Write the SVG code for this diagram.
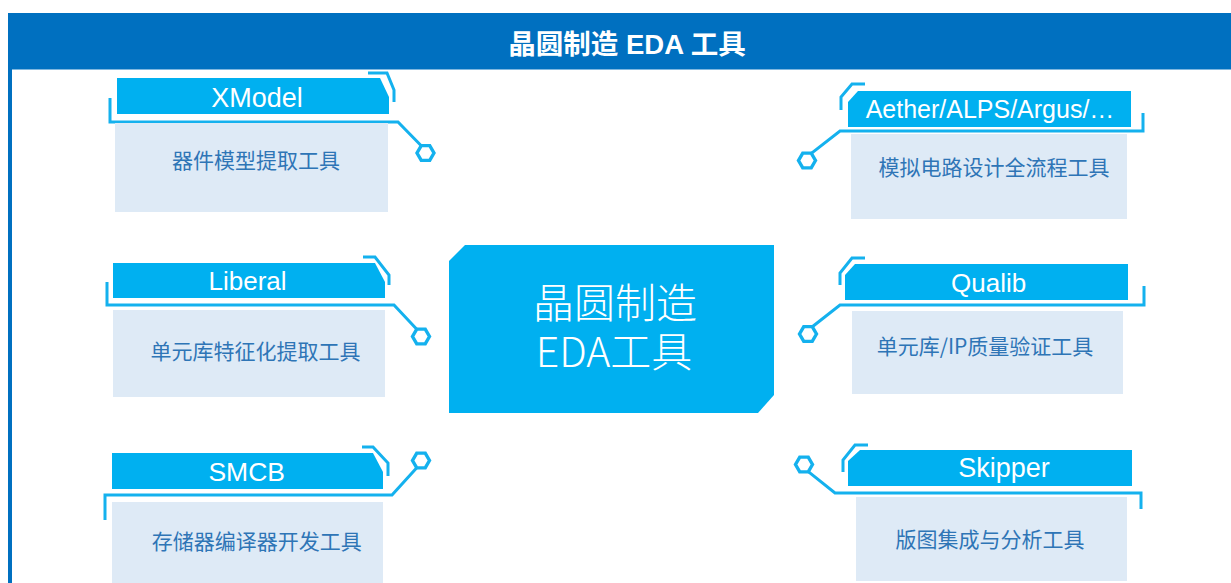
<svg xmlns="http://www.w3.org/2000/svg" xmlns:xlink="http://www.w3.org/1999/xlink" width="1231" height="583" viewBox="0 0 1231 583">
<style>
.bar{fill:#00B0F0}
.body{fill:#DEEAF6}
.ln{fill:none;stroke:#14B1EE;stroke-width:3;stroke-linejoin:miter}
.hex{fill:#fff;stroke:#14B1EE;stroke-width:3.4}
.tt{font-family:"Liberation Sans",Arial,sans-serif;fill:#fff;text-anchor:middle}
.bt{font-family:"Noto Sans CJK SC","Liberation Sans",sans-serif;font-size:21px;fill:#2E75B6;text-anchor:middle}
.hd{font-family:"Liberation Sans","Noto Sans CJK SC",sans-serif;font-weight:bold;font-size:27.5px;fill:#fff;text-anchor:middle}
.ct{font-family:"Noto Sans CJK SC","Liberation Sans",sans-serif;font-weight:300;font-size:41px;fill:#fff;text-anchor:middle}
</style>
<defs>
<path id="hx" d="M8.5,0 L4.25,7.36 L-4.25,7.36 L-8.5,0 L-4.25,-7.36 L4.25,-7.36 Z"/>
</defs>
<rect x="0" y="0" width="1231" height="583" fill="#fff"/>
<g id="header">
<rect x="8" y="13" width="1223" height="56.5" fill="#0070C0"/>
<rect x="8" y="13" width="4" height="570" fill="#0070C0"/>
<text class="hd" x="627" y="54">晶圆制造 EDA 工具</text>
</g>
<g id="connectors">
<path class="ln" d="M368,73 H387 L394,90 V102"/>
<path class="ln" d="M110,98 V122 H398 L421.5,146"/>
<path class="ln" d="M363,257 H375 L389,275 V285"/>
<path class="ln" d="M107,282 V305 H394 L417,329.6"/>
<path class="ln" d="M362,447 H373 L388,463 V476"/>
<path class="ln" d="M105,520 V495 H392 L417,467.4"/>
<path class="ln" d="M865,84 H852 L841,97 V110"/>
<path class="ln" d="M811,153.6 L840,131 H1143 V113"/>
<path class="ln" d="M865,258 H852 L840,273 V285"/>
<path class="ln" d="M812,327 L840,305 H1144 V286"/>
<path class="ln" d="M868,445 H855 L843,460 V472"/>
<path class="ln" d="M808,471.4 L835,493 H1141 V509"/>
<use class="hex" xlink:href="#hx" href="#hx" x="425.5" y="153"/>
<use class="hex" xlink:href="#hx" href="#hx" x="421" y="336.5"/>
<use class="hex" xlink:href="#hx" href="#hx" x="421" y="460.5"/>
<use class="hex" xlink:href="#hx" href="#hx" x="807" y="160.5"/>
<use class="hex" xlink:href="#hx" href="#hx" x="808" y="334"/>
<use class="hex" xlink:href="#hx" href="#hx" x="804" y="464.5"/>
</g>
<g id="center">
<path class="bar" d="M465,245 H774 V395 L758,413 H449 V261 Z"/>
<text class="ct"><tspan x="615" y="318">晶圆制造</tspan><tspan x="614" y="367">EDA工具</tspan></text>
</g>
<g id="xmodel">
<path class="bar" d="M117,78 H380 L389,97 V114 H117 Z"/>
<text class="tt" x="257" y="107" font-size="27">XModel</text>
<rect class="body" x="115" y="123" width="273" height="89"/>
<text class="bt" x="256" y="168">器件模型提取工具</text>
</g>
<g id="liberal">
<path class="bar" d="M113,263 H375 L385,282 V298 H113 Z"/>
<text class="tt" x="247.5" y="290" font-size="26">Liberal</text>
<rect class="body" x="113" y="310" width="272" height="87"/>
<text class="bt" x="255.5" y="359">单元库特征化提取工具</text>
</g>
<g id="smcb">
<path class="bar" d="M112,453 H373 L383,472 V489 H112 Z"/>
<text class="tt" x="246.7" y="481" font-size="26.5">SMCB</text>
<rect class="body" x="112" y="502" width="271" height="90"/>
<text class="bt" x="256.7" y="549">存储器编译器开发工具</text>
</g>
<g id="aether">
<path class="bar" d="M858,91 H1131 V127 H848 V102 Z"/>
<text class="tt" x="990" y="118" font-size="25">Aether/ALPS/Argus/…</text>
<rect class="body" x="851" y="134" width="276" height="85"/>
<text class="bt" x="994" y="175">模拟电路设计全流程工具</text>
</g>
<g id="qualib">
<path class="bar" d="M855,264 H1128 V300 H845 V275 Z"/>
<text class="tt" x="988.7" y="292" font-size="26">Qualib</text>
<rect class="body" x="852" y="311" width="271" height="83"/>
<text class="bt" x="985" y="354">单元库/IP质量验证工具</text>
</g>
<g id="skipper">
<path class="bar" d="M860,450 H1132 V486 H848 V461 Z"/>
<text class="tt" x="1004" y="477" font-size="27">Skipper</text>
<rect class="body" x="856" y="497" width="271" height="84"/>
<text class="bt" x="990" y="547">版图集成与分析工具</text>
</g>
</svg>
